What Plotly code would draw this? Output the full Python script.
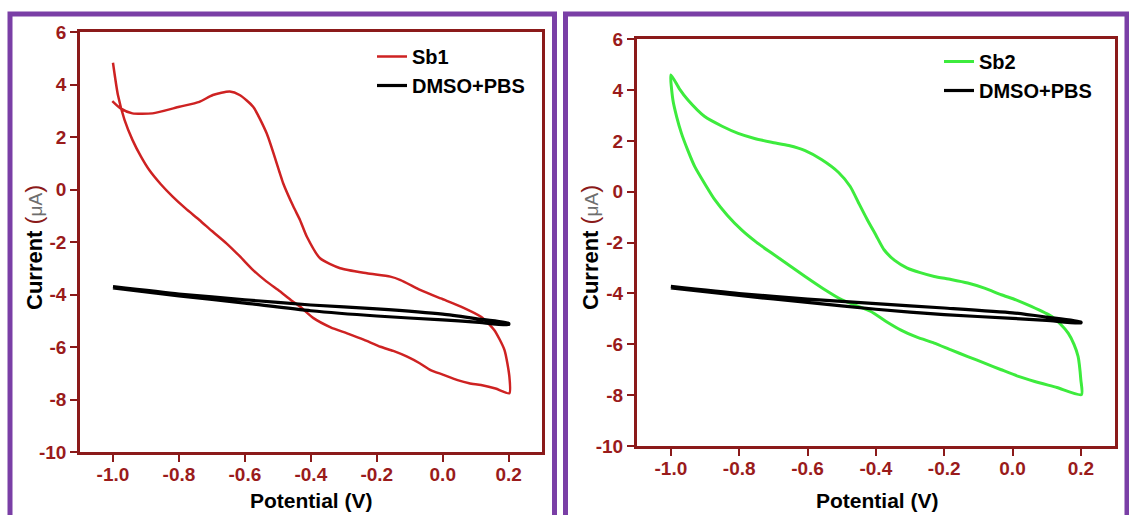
import plotly.graph_objects as go

# ---------------- data ----------------
sb1_x = [-1.000, -0.985, -0.965, -0.941, -0.915, -0.890, -0.855, -0.819, -0.780, -0.738, -0.700,
         -0.656, -0.615, -0.575, -0.535, -0.494, -0.460, -0.433, -0.392, -0.340, -0.290, -0.240,
         -0.189, -0.150, -0.108, -0.070, -0.037, 0.000, 0.045, 0.080, 0.116, 0.160, 0.202,
         0.202, 0.187, 0.156, 0.116, 0.055, -0.006, -0.067, -0.128, -0.159, -0.230, -0.311,
         -0.372, -0.412, -0.433, -0.453, -0.484, -0.494, -0.534, -0.575, -0.616, -0.646, -0.697,
         -0.738, -0.799, -0.880, -0.941, -0.977, -1.002]
sb1_y = [4.83, 3.60, 2.65, 1.89, 1.25, 0.74, 0.20, -0.27, -0.72, -1.16, -1.58,
         -2.05, -2.55, -3.07, -3.50, -3.88, -4.22, -4.46, -4.90, -5.25, -5.48, -5.72,
         -5.99, -6.15, -6.37, -6.62, -6.88, -7.05, -7.26, -7.38, -7.45, -7.58, -7.76,
         -7.13, -6.11, -5.35, -4.85, -4.46, -4.15, -3.83, -3.45, -3.32, -3.19, -3.00,
         -2.62, -1.80, -1.16, -0.65, 0.24, 0.62, 2.14, 3.15, 3.60, 3.73, 3.60,
         3.34, 3.15, 2.90, 2.90, 3.09, 3.37]

sb2_x = [-1.000, -0.994, -0.983, -0.969, -0.950, -0.930, -0.900, -0.871, -0.835, -0.793, -0.750,
         -0.705, -0.655, -0.607, -0.555, -0.499, -0.416, -0.370, -0.328, -0.280, -0.229, -0.180,
         -0.131, -0.080, -0.033, 0.015, 0.065, 0.130, 0.202,
         0.200, 0.192, 0.180, 0.163, 0.140, 0.114, 0.055, 0.010, -0.033, -0.080, -0.131,
         -0.180, -0.229, -0.270, -0.308, -0.345, -0.376, -0.400, -0.425, -0.450, -0.475, -0.509,
         -0.558, -0.607, -0.655, -0.705, -0.755, -0.803, -0.850, -0.901, -0.950, -0.975, -1.000]
sb2_y = [4.60, 3.61, 2.95, 2.30, 1.62, 0.99, 0.30, -0.32, -0.92, -1.50, -1.98,
         -2.41, -2.88, -3.33, -3.80, -4.25, -4.70, -5.10, -5.43, -5.72, -5.95, -6.22,
         -6.48, -6.75, -7.00, -7.25, -7.46, -7.70, -7.98,
         -7.40, -6.48, -6.00, -5.56, -5.20, -4.90, -4.51, -4.25, -4.05, -3.80, -3.59,
         -3.45, -3.33, -3.18, -3.00, -2.70, -2.28, -1.70, -1.10, -0.45, 0.21, 0.76,
         1.26, 1.62, 1.82, 1.95, 2.10, 2.30, 2.58, 2.96, 3.61, 4.05, 4.60]

blank1_x = [-1.0, -0.8, -0.6, -0.4, -0.2, 0.0, 0.1, 0.2, 0.2, 0.1, 0.0, -0.2, -0.4, -0.6, -0.8, -1.0]
blank1_y = [-3.75, -4.05, -4.33, -4.62, -4.82, -4.97, -5.05, -5.15, -5.10, -4.92, -4.75, -4.55,
            -4.40, -4.20, -3.98, -3.70]
blank2_x = [-1.0, -0.8, -0.6, -0.4, -0.2, 0.0, 0.1, 0.2, 0.2, 0.1, 0.0, -0.2, -0.4, -0.6, -0.8, -1.0]
blank2_y = [-3.78, -4.08, -4.35, -4.62, -4.83, -4.98, -5.06, -5.16, -5.12, -4.93, -4.76, -4.57,
            -4.40, -4.22, -4.00, -3.72]

x_ticks = [-1.0, -0.8, -0.6, -0.4, -0.2, 0.0, 0.2]
x_tick_text = ["-1.0", "-0.8", "-0.6", "-0.4", "-0.2", "0.0", "0.2"]
y_ticks = [-10, -8, -6, -4, -2, 0, 2, 4, 6]
y_tick_text = ["-10", "-8", "-6", "-4", "-2", "0", "2", "4", "6"]
series_names = ["Sb1", "Sb2", "DMSO+PBS"]

# ---------------- styling ----------------
W, H = 1129, 515
AXC = "#8B1A1A"
TICKC = "#9A1B1B"
RED = "#CE2222"
GREEN = "#3DEB3D"
PURPLE = "#7A3FA6"
FONT = "Arial, Liberation Sans, sans-serif"


def px_x(p):
    return p / W


def px_y(p):
    return 1 - p / H


fig = go.Figure()
fig.add_trace(go.Scatter(x=sb1_x, y=sb1_y, mode="lines", name=series_names[0],
                         line=dict(color=RED, width=2.5, shape="spline", smoothing=0.6),
                         xaxis="x", yaxis="y", legend="legend"))
fig.add_trace(go.Scatter(x=blank1_x, y=blank1_y, mode="lines", name=series_names[2],
                         line=dict(color="black", width=3.2, shape="spline", smoothing=0.6),
                         xaxis="x", yaxis="y", legend="legend"))
fig.add_trace(go.Scatter(x=sb2_x, y=sb2_y, mode="lines", name=series_names[1],
                         line=dict(color=GREEN, width=3, shape="spline", smoothing=0.6),
                         xaxis="x2", yaxis="y2", legend="legend2"))
fig.add_trace(go.Scatter(x=blank2_x, y=blank2_y, mode="lines", name=series_names[2],
                         line=dict(color="black", width=3.2, shape="spline", smoothing=0.6),
                         xaxis="x2", yaxis="y2", legend="legend2"))

axis_common = dict(showline=True, linecolor=AXC, linewidth=2.5, mirror=True,
                   ticks="outside", ticklen=7, tickwidth=2, tickcolor=AXC,
                   showgrid=False, zeroline=False, automargin=False,
                   tickfont=dict(family=FONT, size=19, color=TICKC, weight="bold"))
xaxis_extra = dict(ticklabelstandoff=-4, tickvals=x_ticks, ticktext=x_tick_text)
yaxis_extra = dict(tickvals=y_ticks, ticktext=y_tick_text)

legend_common = dict(xanchor="left", yanchor="top", bgcolor="rgba(0,0,0,0)",
                     borderwidth=0, tracegroupgap=0,
                     font=dict(family=FONT, size=20, color="black", weight="bold"))

fig.update_layout(
    width=W, height=H,
    margin=dict(l=0, r=0, t=0, b=0, pad=0),
    autosize=False,
    paper_bgcolor="white", plot_bgcolor="white",
    xaxis=dict(domain=[px_x(80), px_x(541.7)], range=[-1.1, 0.3], anchor="y",
               **axis_common, **xaxis_extra),
    yaxis=dict(domain=[px_y(452), px_y(32)], range=[-10, 6], anchor="x",
               **axis_common, **yaxis_extra),
    xaxis2=dict(domain=[px_x(636.7), px_x(1115)], range=[-1.1, 0.3], anchor="y2",
                **axis_common, **xaxis_extra),
    yaxis2=dict(domain=[px_y(446), px_y(39.3)], range=[-10, 6], anchor="x2",
                **axis_common, **yaxis_extra),
    legend=dict(x=px_x(372), y=px_y(37), **legend_common),
    legend2=dict(x=px_x(939), y=px_y(42), **legend_common),
    showlegend=True,
)

# purple frames
for x0, x1 in [(10, 554.5), (565.5, 1127)]:
    fig.add_shape(type="rect", xref="paper", yref="paper",
                  x0=px_x(x0), x1=px_x(x1), y0=px_y(540), y1=px_y(14),
                  line=dict(color=PURPLE, width=5), fillcolor="rgba(0,0,0,0)", layer="below")

ytitle = ("<b>Current</b> <span style='color:%s;font-size:24px'>(</span>"
          "<span style='color:#6e6e6e;font-size:19px'>μA</span>"
          "<span style='color:%s;font-size:24px'>)</span>") % (AXC, AXC)
for cx in [33, 589]:
    fig.add_annotation(x=px_x(cx), y=px_y(248), xref="paper", yref="paper",
                       xanchor="center", yanchor="middle",
                       text=ytitle, textangle=-90, showarrow=False,
                       font=dict(family=FONT, size=22, color="black"))
for cx in [311, 877]:
    fig.add_annotation(x=px_x(cx), y=px_y(500), xref="paper", yref="paper",
                       xanchor="center", yanchor="middle",
                       text="<b>Potential (V)</b>", showarrow=False,
                       font=dict(family=FONT, size=21, color="black"))

fig.write_html("out.html", config={"displayModeBar": False},
               post_script="document.body.style.margin='0';document.body.style.overflow='hidden';")
